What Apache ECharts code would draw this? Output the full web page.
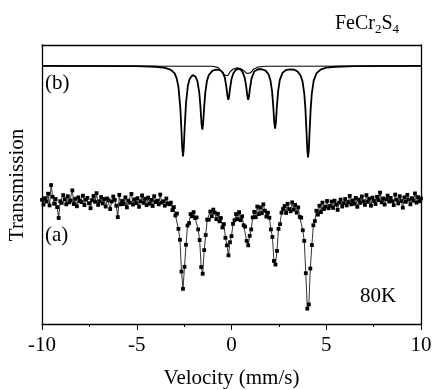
<!DOCTYPE html>
<html>
<head>
<meta charset="utf-8">
<script src="https://cdn.jsdelivr.net/npm/echarts@6/dist/echarts.min.js"></script>
<style>
html,body{margin:0;padding:0;background:#fff;}
#chart{width:433px;height:390px;}
</style>
</head>
<body>
<div id="chart"></div>
<script>
// x-axis ticks
var xTicks = [-10, -5, 0, 5, 10];

// (b) fitted spectrum (velocity mm/s, relative transmission units)
var fitVelocity = [-10, -5, -4, -3.5, -3.2, -3.0, -2.9, -2.8, -2.7, -2.65, -2.6, -2.56, -2.52, -2.47, -2.4, -2.3, -2.2, -2.05, -1.9, -1.8, -1.7, -1.64, -1.58, -1.54, -1.5, -1.44, -1.38, -1.3, -1.2, -1.0, -0.8, -0.6, -0.45, -0.35, -0.27, -0.21, -0.17, -0.13, -0.07, 0.0, 0.1, 0.2, 0.35, 0.5, 0.6, 0.7, 0.78, 0.84, 0.88, 0.92, 0.98, 1.06, 1.2, 1.4, 1.6, 1.8, 1.95, 2.05, 2.14, 2.2, 2.26, 2.30, 2.34, 2.40, 2.46, 2.55, 2.7, 2.9, 3.1, 3.3, 3.5, 3.65, 3.75, 3.84, 3.9, 3.96, 4.00, 4.04, 4.08, 4.12, 4.18, 4.24, 4.34, 4.48, 4.7, 5.0, 5.5, 6.5, 10];
var fitTotal = [92.5, 92.4, 92.2, 91.8, 91.1, 89.8, 88.2, 85.0, 77.4, 70.6, 63.0, 60.1, 62.9, 70.5, 79.3, 85.5, 88.0, 89.2, 88.7, 87.1, 82.9, 78.0, 71.6, 69.7, 71.6, 78.0, 83.1, 87.0, 89.2, 90.8, 91.2, 91.0, 90.1, 88.2, 84.9, 81.6, 80.4, 81.4, 84.7, 87.8, 89.9, 90.9, 91.5, 91.1, 90.1, 88.2, 84.9, 81.6, 80.4, 81.4, 84.7, 88.1, 90.5, 91.3, 91.3, 90.8, 89.5, 87.5, 83.5, 78.4, 72.0, 70.0, 72.0, 78.4, 83.4, 87.5, 90.1, 91.1, 91.3, 91.2, 90.4, 89.0, 86.9, 82.6, 77.2, 68.7, 62.5, 59.7, 62.5, 68.8, 77.3, 82.7, 87.3, 89.8, 91.2, 91.9, 92.2, 92.4, 92.5];

// (b) minor subspectrum near the centre
var compVelocity = [-10, -1.0, -0.7, -0.5, -0.4, -0.3, -0.2, -0.05, 0.1, 0.3, 0.5, 0.65, 0.8, 0.9, 1.0, 1.15, 1.4, 1.8, 10];
var compValues = [92.5, 92.4, 91.9, 90.2, 89.3, 88.7, 89.0, 90.6, 91.4, 91.8, 91.5, 90.8, 89.8, 89.5, 90.0, 91.2, 92.1, 92.4, 92.5];

// (a) measured channels: velocity grid start/step, transmission values
var dataVelocityStart = -10;
var dataVelocityStep = 0.08;
var dataTransmission = [
 44.5, 42.8, 45.1, 43.9, 46.7, 42.5, 49.8, 45.6, 43.1, 44.8,
 41.9, 38.0, 44.0, 43.4, 46.2, 44.7, 42.9, 45.8, 43.6, 44.3,
 47.9, 43.0, 44.9, 42.2, 45.4, 44.1, 43.7, 46.0, 42.6, 44.6,
 45.2, 43.3, 41.5, 44.4, 45.9, 43.8, 46.9, 42.7, 44.0, 45.5,
 43.2, 44.8, 42.1, 45.0, 44.3, 41.2, 43.9, 45.7, 44.5, 42.4,
 38.3, 46.3, 42.9, 44.1, 43.0, 45.4, 41.8, 44.2, 43.5, 46.6,
 42.8, 44.7, 43.3, 45.1, 42.0, 44.0, 46.1, 43.4, 44.9, 42.6,
 45.3, 43.1, 44.5, 42.3, 45.8, 43.7, 44.2, 42.9, 46.4, 43.5,
 44.0, 42.4, 45.0, 43.2, 42.9, 43.5, 40.8, 41.9, 38.9, 39.6,
 34.1, 30.2, 18.8, 12.6, 20.5, 28.4, 35.3, 36.2, 39.4, 38.6,
 40.1, 38.0, 38.2, 33.9, 30.1, 20.4, 18.0, 26.5, 31.9, 37.4,
 37.4, 40.3, 38.6, 41.0, 39.9, 37.6, 39.5, 36.8, 38.0, 34.6,
 35.8, 30.9, 28.2, 24.6, 29.3, 31.5, 35.9, 37.2, 39.4, 37.6,
 40.1, 37.2, 38.6, 35.4, 34.9, 29.8, 28.2, 31.6, 33.9, 38.2,
 40.2, 38.3, 42.1, 39.4, 41.8, 39.7, 42.9, 40.6, 38.5, 39.9,
 38.1, 33.9, 31.2, 22.6, 21.3, 26.2, 34.1, 35.8, 39.9, 41.2,
 42.3, 39.8, 43.1, 41.2, 40.4, 43.6, 41.0, 42.7, 39.9, 41.8,
 38.4, 38.1, 33.6, 29.8, 18.2, 5.5, 7.0, 19.9, 28.3, 35.4,
 36.9, 40.6, 39.2, 42.4, 40.1, 43.5, 41.2, 42.0, 44.1, 41.5,
 42.3, 43.9, 41.6, 44.2, 42.8, 40.9, 43.5, 44.6, 42.1, 43.3,
 44.8, 42.5, 43.7, 45.9, 42.9, 44.3, 43.1, 45.2, 42.0, 44.6,
 43.4, 45.7, 44.0, 42.7, 46.2, 43.8, 44.9, 42.4, 45.3, 44.1,
 43.0, 45.6, 44.4, 47.1, 43.6, 45.0, 42.8, 44.7, 46.0, 43.9,
 45.2, 44.0, 42.6, 46.4, 44.5, 43.2, 45.8, 44.1, 41.7, 45.4,
 43.8, 46.3, 44.6, 42.9, 45.1, 44.2, 46.8, 43.5, 45.5, 44.0,
 45.0
];

var compound = 'FeCr{s|2}S{s|4}';
var labelB = '(b)';
var labelA = '(a)';
var tempLabel = '80K';
var xTitle = 'Velocity (mm/s)';
var yTitle = 'Transmission';

function pairs(xs, ys){ return ys.map(function(v,i){ return [xs[i], v]; }); }
var measured = dataTransmission.map(function(v,i){
  return [+(dataVelocityStart + i*dataVelocityStep).toFixed(2), v];
});

var font = 'Liberation Serif, Times New Roman, serif';
var chart = echarts.init(document.getElementById('chart'), null, {renderer:'canvas'});
chart.setOption({
  animation: false,
  backgroundColor: '#fff',
  grid: {left: 42, right: 12, top: 45, bottom: 66, containLabel: false, outerBoundsMode: 'none'},
  xAxis: [{
    type: 'value', min: -10, max: 10, interval: 5,
    axisLine: {show: true, onZero: false, lineStyle: {color: '#000', width: 1.3}},
    axisTick: {show: true, inside: false, length: 6, lineStyle: {color: '#000', width: 1}},
    minorTick: {show: true, splitNumber: 2, length: 3, lineStyle: {color: '#000', width: 1}},
    splitLine: {show: false},
    axisLabel: {color: '#000', fontFamily: font, fontSize: 21, margin: 11, hideOverlap: false,
      formatter: function(v){ return xTicks.indexOf(v) >= 0 ? String(v) : ''; }},
    name: xTitle, nameLocation: 'middle', nameGap: 44,
    nameTextStyle: {color: '#000', fontFamily: font, fontSize: 21}
  }, {
    type: 'value', min: -10, max: 10, position: 'top',
    axisLine: {show: true, onZero: false, lineStyle: {color: '#000', width: 1.3}},
    axisTick: {show: false}, axisLabel: {show: false}, splitLine: {show: false}
  }],
  yAxis: [{
    type: 'value', min: 0, max: 100,
    axisLine: {show: true, onZero: false, lineStyle: {color: '#000', width: 1.3}},
    axisTick: {show: false}, axisLabel: {show: false}, splitLine: {show: false}
  }, {
    type: 'value', min: 0, max: 100, position: 'right',
    axisLine: {show: true, onZero: false, lineStyle: {color: '#000', width: 1.3}},
    axisTick: {show: false}, axisLabel: {show: false}, splitLine: {show: false}
  }],
  series: [{
    type: 'line', data: pairs(compVelocity, compValues), showSymbol: false,
    lineStyle: {color: '#000', width: 1.1}, z: 2
  }, {
    type: 'line', data: pairs(fitVelocity, fitTotal), showSymbol: false,
    lineStyle: {color: '#000', width: 1.8}, z: 3
  }, {
    type: 'line', data: measured, symbol: 'rect', symbolSize: 3.8, showAllSymbol: true,
    itemStyle: {color: '#000'}, lineStyle: {color: '#000', width: 0.8}, z: 4
  }],
  graphic: [{
    type: 'text', left: 335, top: 14,
    style: {text: compound, fill: '#000', font: '20px ' + font,
      rich: {s: {fontSize: 13, fontFamily: font, fill: '#000', padding: [12, 0, 0, 0]}}}
  }, {
    type: 'text', left: 45, top: 73, style: {text: labelB, fill: '#000', font: '21px ' + font}
  }, {
    type: 'text', left: 45, top: 225, style: {text: labelA, fill: '#000', font: '21px ' + font}
  }, {
    type: 'text', left: 360, top: 286, style: {text: tempLabel, fill: '#000', font: '21px ' + font}
  }, {
    type: 'text', x: 17, y: 185, rotation: Math.PI/2,
    style: {text: yTitle, fill: '#000', font: '21px ' + font, align: 'center', verticalAlign: 'middle'}
  }]
});
</script>
</body>
</html>
